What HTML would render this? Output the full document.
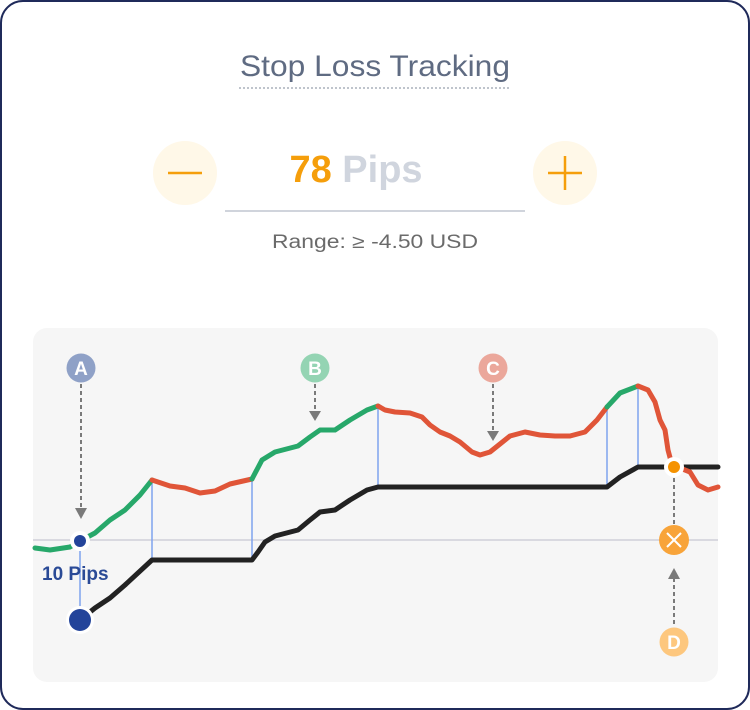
<!DOCTYPE html>
<html><head><meta charset="utf-8"><style>
html,body{margin:0;padding:0;background:#fff;}
svg{display:block;font-family:"Liberation Sans",sans-serif;}
</style></head><body>
<svg width="750" height="710" viewBox="0 0 750 710" xmlns="http://www.w3.org/2000/svg">
<rect x="1" y="1" width="748" height="708" rx="22" fill="#fff" stroke="#1f2a5a" stroke-width="2"/>
<text x="240" y="76" font-size="30" fill="#5f6b82" textLength="270" lengthAdjust="spacingAndGlyphs">Stop Loss Tracking</text>
<line x1="239" y1="88" x2="511" y2="88" stroke="#aab0bc" stroke-width="1.5" stroke-dasharray="2,2"/>
<circle cx="185" cy="173" r="32" fill="#fff8e8"/>
<line x1="168" y1="173" x2="202" y2="173" stroke="#f59e0b" stroke-width="2.5"/>
<circle cx="565" cy="173" r="32" fill="#fff8e8"/>
<line x1="548" y1="173" x2="582" y2="173" stroke="#f59e0b" stroke-width="2.5"/>
<line x1="565" y1="156" x2="565" y2="190" stroke="#f59e0b" stroke-width="2.5"/>
<text x="356" y="182" text-anchor="middle" font-size="38"><tspan font-weight="bold" fill="#f59e0b">78</tspan><tspan fill="#d0d5de" font-weight="bold"> Pips</tspan></text>
<line x1="225" y1="211" x2="525" y2="211" stroke="#d0d4dc" stroke-width="2"/>
<text x="272" y="248" font-size="19" fill="#6b6b6b" textLength="206" lengthAdjust="spacingAndGlyphs">Range: ≥ -4.50 USD</text>

<rect x="33" y="328" width="685" height="354" rx="14" fill="#f6f6f6"/>
<line x1="33" y1="540" x2="718" y2="540" stroke="#cfcfd8" stroke-width="1.5"/>

<g stroke="#7fa3ef" stroke-width="1.5">
<line x1="80" y1="541" x2="80" y2="620"/>
<line x1="152" y1="480" x2="152" y2="560"/>
<line x1="252" y1="479" x2="252" y2="560"/>
<line x1="378" y1="406" x2="378" y2="487"/>
<line x1="607" y1="407" x2="607" y2="487"/>
<line x1="638" y1="386" x2="638" y2="467"/>
</g>

<g fill="none" stroke-width="5" stroke-linecap="round" stroke-linejoin="round">
<polyline stroke="#222" points="80,620 95,608 110,598 125,585 152,560 252,560 258,552 265,542 275,536 298,530 310,520 320,512 335,510 350,500 367,490 378,487 607,487 620,477 638,467 718,467"/>
<polyline stroke="#27a86a" points="35,548 50,550 70,547 80,541 95,533 110,520 125,510 140,495 152,480"/>
<polyline stroke="#e05538" points="152,480 170,486 185,488 200,493 215,491 230,484 252,479"/>
<polyline stroke="#27a86a" points="252,479 262,460 275,452 298,446 310,437 320,430 335,430 350,420 367,410 378,406"/>
<polyline stroke="#e05538" points="378,406 385,410 395,412 410,413 422,417 430,425 440,432 450,436 460,442 472,452 480,455 490,452 500,444 510,436 525,432 540,435 555,436 570,436 585,432 597,420 607,407"/>
<polyline stroke="#27a86a" points="607,407 620,393 638,386"/>
<polyline stroke="#e05538" points="638,386 648,390 655,402 660,420 665,430 668,450 672,465 680,468 690,472 698,485 708,490 718,487"/>
</g>

<g stroke="#7a7a7a" stroke-width="2" stroke-dasharray="4,3">
<line x1="81" y1="384" x2="81" y2="508"/>
<line x1="315" y1="384" x2="315" y2="412"/>
<line x1="493" y1="384" x2="493" y2="432"/>
<line x1="674" y1="478" x2="674" y2="525"/>
<line x1="674" y1="578" x2="674" y2="626"/>
</g>
<g fill="#7a7a7a">
<polygon points="75,508 87,508 81,519"/>
<polygon points="309,411 321,411 315,421"/>
<polygon points="487,431 499,431 493,441"/>
<polygon points="668,579 680,579 674,568"/>
</g>

<g font-weight="bold" font-size="19" fill="#fff" text-anchor="middle">
<circle cx="81" cy="368" r="14.5" fill="#8fa1c7"/><text x="81" y="375">A</text>
<circle cx="315" cy="368" r="14.5" fill="#94d4b3"/><text x="315" y="375">B</text>
<circle cx="493" cy="368" r="14.5" fill="#eba79b"/><text x="493" y="375">C</text>
<circle cx="674" cy="642" r="14.5" fill="#fdc77e"/><text x="674" y="649">D</text>
</g>

<circle cx="674" cy="540" r="15" fill="#f8a43a"/>
<g stroke="#fff" stroke-width="2"><line x1="667" y1="533" x2="681" y2="547"/><line x1="681" y1="533" x2="667" y2="547"/></g>
<circle cx="674" cy="467" r="10" fill="#fff"/><circle cx="674" cy="467" r="6" fill="#f59200"/>

<circle cx="80" cy="541" r="10" fill="#fff"/><circle cx="80" cy="541" r="6" fill="#23449a"/>
<circle cx="80" cy="620" r="14" fill="#fff"/><circle cx="80" cy="620" r="11" fill="#23449a"/>
<text x="42" y="580" font-size="19" font-weight="bold" fill="#2a4a96">10 Pips</text>
</svg>
</body></html>
